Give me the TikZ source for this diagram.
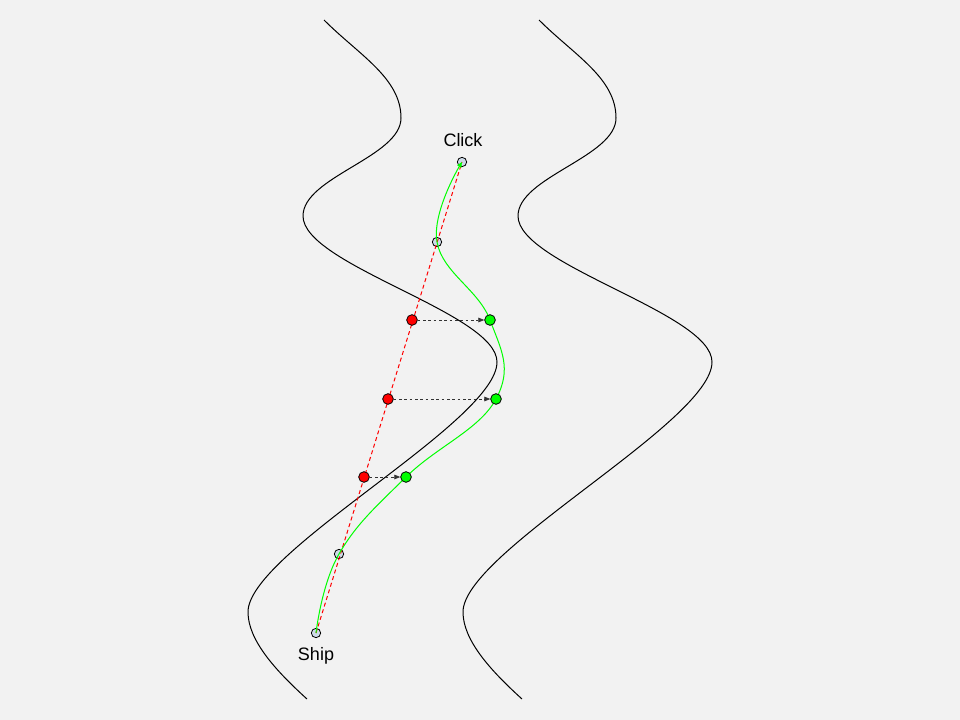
\documentclass[tikz,border=0pt]{standalone}
\usepackage{fontspec}
\setmainfont{Liberation Sans}
\usetikzlibrary{arrows.meta,positioning}
\definecolor{bggrey}{HTML}{F2F2F2}
\definecolor{pale}{RGB}{205,218,232}
\definecolor{vivid}{HTML}{00FF00}
\definecolor{dotgrey}{HTML}{333333}

\begin{document}
\begin{tikzpicture}[x=0.75pt,y=-0.75pt]
                \tikzstyle{waypt} = [shape=circle, fill=pale, draw=black, line width=0.6pt, minimum size=7pt, inner sep=0pt];
                \tikzstyle{rawpt} = [shape=circle, fill=red, draw=black, line width=0.6pt, minimum size=8pt, inner sep=0pt];
                \tikzstyle{fixpt} = [shape=circle, fill=vivid, draw=black, line width=0.6pt, minimum size=8pt, inner sep=0pt];
                \tikzstyle{bank} = [draw=black, line width=0.75pt];
                \tikzstyle{caption} = [anchor=base, inner sep=0pt, font=\fontsize{13.5pt}{16pt}\selectfont];

                \fill[bggrey] (0,0) rectangle (960,720);

                % river banks
                \foreach \dx in {0,215}
                    \draw[bank, shift={(\dx,0)}] (324,20) .. controls (359,55) and (401,78) .. (401,118)
                        .. controls (401,157) and (303,177) .. (303,216)
                        .. controls (303,265) and (497,313) .. (497,362)
                        .. controls (497,422) and (248,552) .. (248,612)
                        .. controls (248,640) and (275,670) .. (307,699);

                \node[waypt](S) at (316,633) {};
                \node[waypt](P2) at (339,554) {};
                \node[waypt](P1) at (437,242) {};
                \node[waypt](C) at (462,162) {};

                \node[caption](TS) at (316,660) {Ship};
                \node[caption](TC) at (463,147) {Click};

                \coordinate (g1) at (490,320);
                \coordinate (g2) at (496,399);
                \coordinate (g3) at (406,477);

                \draw[red, line width=0.75pt, dash pattern=on 3pt off 2.2pt] (S.center) -- (C.center);
                \draw[vivid, line width=0.75pt, -{Triangle[length=4pt,width=3.5pt]}]
                    plot[smooth, tension=0.7] coordinates {(S.center) (P2.center) (g3) (g2) (g1) (P1.center) (C.center)};

                \node[rawpt](R1) at (412,320) {};
                \node[rawpt](R2) at (388,399) {};
                \node[rawpt](R3) at (364,477) {};
                \node[fixpt](G1) at (g1) {};
                \node[fixpt](G2) at (g2) {};
                \node[fixpt](G3) at (g3) {};

                \draw[-{Triangle[length=4.5pt,width=3.5pt]}, dotgrey, line width=0.6pt, dash pattern=on 2pt off 2pt]
                    (R1) edge (G1)
                    (R2) edge (G2)
                    (R3) edge (G3)
                ;
\end{tikzpicture}
\end{document}
